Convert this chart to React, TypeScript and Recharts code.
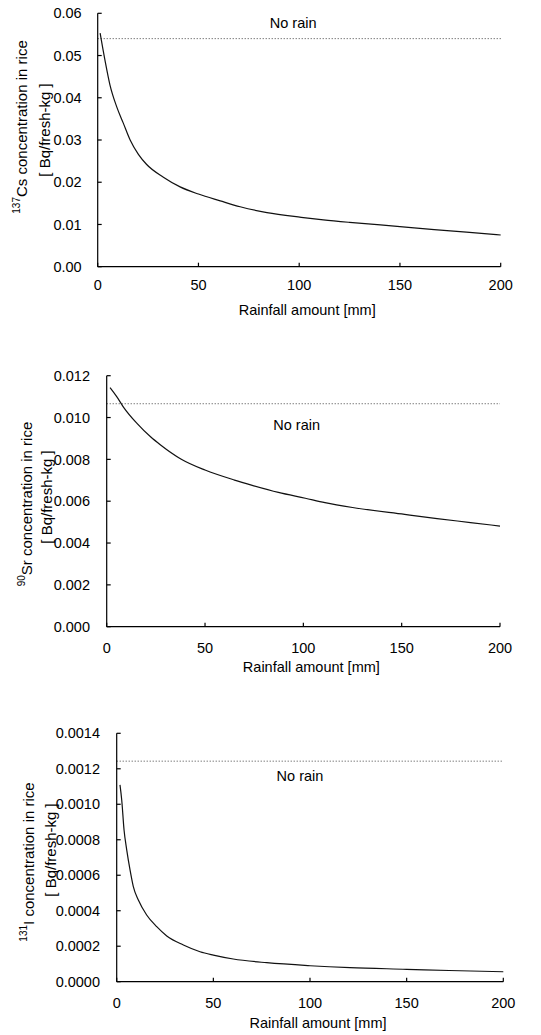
import React from "react";
import {
  LineChart,
  Line,
  XAxis,
  YAxis,
  ReferenceLine,
} from "recharts";

// rainfall (mm) vs concentration
const csRain = [1.2, 3.6, 6.1, 9.4, 12.7, 16.1, 20.2, 24.3, 32.6, 40.9, 50, 60.8, 70.7, 84, 101, 112, 125, 150, 167, 183, 200];
const csConc = [0.0553, 0.0489, 0.043, 0.0379, 0.034, 0.03, 0.0266, 0.0242, 0.0212, 0.0189, 0.0172, 0.0156, 0.0142, 0.0128, 0.0117, 0.0111, 0.0105, 0.0095, 0.0088, 0.0082, 0.0075];
const csNoRain = 0.054;
const csTicks = [0, 0.01, 0.02, 0.03, 0.04, 0.05, 0.06];

const srRain = [1.7, 5.1, 8.6, 15.4, 22.3, 27.4, 37.7, 50, 65, 73.6, 87.3, 101, 111, 125, 151.5, 168, 185, 200];
const srConc = [0.01143, 0.011, 0.01049, 0.00972, 0.00908, 0.00869, 0.00802, 0.00749, 0.00701, 0.00677, 0.00642, 0.00614, 0.00593, 0.0057, 0.00537, 0.00517, 0.00498, 0.00481];
const srNoRain = 0.01066;
const srTicks = [0, 0.002, 0.004, 0.006, 0.008, 0.01, 0.012];

const iRain = [1.7, 2.6, 3.8, 5.2, 6.9, 8.6, 11.2, 15.5, 20.7, 25.9, 34.5, 43.1, 50, 60.3, 77.6, 100, 120.7, 150, 172, 200];
const iConc = [0.001109, 0.001024, 0.000855, 0.000742, 0.00063, 0.000536, 0.00046, 0.000376, 0.00031, 0.000258, 0.000207, 0.000169, 0.00015, 0.000128, 0.000107, 0.00009, 0.000079, 0.00007, 0.000063, 0.000056];
const iNoRain = 0.001243;
const iTicks = [0, 0.0002, 0.0004, 0.0006, 0.0008, 0.001, 0.0012, 0.0014];

const rainTicks = [0, 50, 100, 150, 200];

const FONT = "'Liberation Sans', Arial, sans-serif";
const TICK_SIZE = 14.5;

const toRows = (xs: number[], ys: number[]) => xs.map((x, i) => ({ x, y: ys[i] }));

function NoRainLabel(props: any) {
  const { viewBox, fx, dy } = props;
  return (
    <text
      x={viewBox.x + viewBox.width * fx}
      y={viewBox.y + dy}
      textAnchor="middle"
      dominantBaseline="central"
      fontFamily={FONT}
      fontSize={14.5}
      fill="#000"
    >
      No rain
    </text>
  );
}

function XTitle(props: any) {
  const { viewBox, dy } = props;
  return (
    <text
      x={viewBox.x + viewBox.width / 2 + 8}
      y={viewBox.y + dy}
      textAnchor="middle"
      dominantBaseline="central"
      fontFamily={FONT}
      fontSize={14.5}
      fill="#000"
    >
      Rainfall amount [mm]
    </text>
  );
}

function YTitle(props: any) {
  const { sup, species, x1, x2, cy1, cy2 } = props;
  return (
    <g fontFamily={FONT} fontSize={15} fill="#000">
      <text transform={`translate(${x1},${cy1}) rotate(-90)`} textAnchor="middle" dominantBaseline="central">
        <tspan fontSize={10} dy={-5}>{sup}</tspan>
        <tspan dy={5}>{species} concentration in rice</tspan>
      </text>
      <text transform={`translate(${x2},${cy2}) rotate(-90)`} textAnchor="middle" dominantBaseline="central">
        [ Bq/fresh-kg ]
      </text>
    </g>
  );
}

interface PanelProps {
  rows: { x: number; y: number }[];
  yTicks: number[];
  digits: number;
  noRain: number;
  top: number;
  height: number;
  margin: { top: number; right: number; bottom: number; left: number };
  xAxisHeight: number;
  xTickMargin: number;
  yTickMargin: number;
  labelFx: number;
  labelDy: number;
  titleDy: number;
  yTitle: any;
}

function Panel(p: PanelProps) {
  const axisStroke = { stroke: "#000", strokeWidth: 1.2 };
  return (
    <div style={{ position: "absolute", left: 0, top: p.top }}>
      <LineChart width={541} height={p.height} data={p.rows} margin={p.margin}>
        <XAxis
          dataKey="x"
          type="number"
          domain={[0, 200]}
          ticks={rainTicks}
          height={p.xAxisHeight}
          tickSize={-4}
          tickMargin={p.xTickMargin}
          axisLine={axisStroke}
          tickLine={axisStroke}
          tick={{ fill: "#000", fontSize: TICK_SIZE, fontFamily: FONT }}
          label={<XTitle dy={p.titleDy} />}
        />
        <YAxis
          type="number"
          width={60}
          domain={[p.yTicks[0], p.yTicks[p.yTicks.length - 1]]}
          ticks={p.yTicks}
          tickFormatter={(v: number) => v.toFixed(p.digits)}
          tickSize={-4}
          tickMargin={p.yTickMargin}
          axisLine={axisStroke}
          tickLine={axisStroke}
          tick={{ fill: "#000", fontSize: TICK_SIZE, fontFamily: FONT }}
          label={p.yTitle}
        />
        <ReferenceLine
          y={p.noRain}
          stroke="#444"
          strokeWidth={1}
          strokeDasharray="1 2"
          label={<NoRainLabel fx={p.labelFx} dy={p.labelDy} />}
        />
        <Line
          type="monotone"
          dataKey="y"
          stroke="#111"
          strokeWidth={1.2}
          dot={false}
          isAnimationActive={false}
        />
      </LineChart>
    </div>
  );
}

export default function App() {
  return (
    <div style={{ position: "absolute", left: 0, top: 0, width: 541, height: 1035, background: "#fff" }}>
      <Panel
        rows={toRows(csRain, csConc)}
        yTicks={csTicks}
        digits={2}
        noRain={csNoRain}
        top={0}
        height={330}
        margin={{ top: 13.3, right: 40.3, bottom: 3.3, left: 37.7 }}
        xAxisHeight={60}
        xTickMargin={17}
        yTickMargin={20}
        labelFx={0.485}
        labelDy={-15.7}
        titleDy={43}
        yTitle={<YTitle sup="137" species="Cs" x1={21} x2={44} cy1={127} cy2={130} />}
      />
      <Panel
        rows={toRows(srRain, srConc)}
        yTicks={srTicks}
        digits={3}
        noRain={srNoRain}
        top={340}
        height={350}
        margin={{ top: 35.7, right: 41, bottom: 3.3, left: 46.7 }}
        xAxisHeight={60}
        xTickMargin={20}
        yTickMargin={20.7}
        labelFx={0.483}
        labelDy={21}
        titleDy={40}
        yTitle={<YTitle sup="90" species="Sr" x1={26} x2={46} cy1={164} cy2={157} />}
      />
      <Panel
        rows={toRows(iRain, iConc)}
        yTicks={iTicks}
        digits={4}
        noRain={iNoRain}
        top={690}
        height={345}
        margin={{ top: 43.3, right: 37.7, bottom: 3.3, left: 56.7 }}
        xAxisHeight={50}
        xTickMargin={20}
        yTickMargin={20.7}
        labelFx={0.474}
        labelDy={14.7}
        titleDy={41}
        yTitle={<YTitle sup="131" species="I" x1={28} x2={50} cy1={172} cy2={160} />}
      />
    </div>
  );
}
